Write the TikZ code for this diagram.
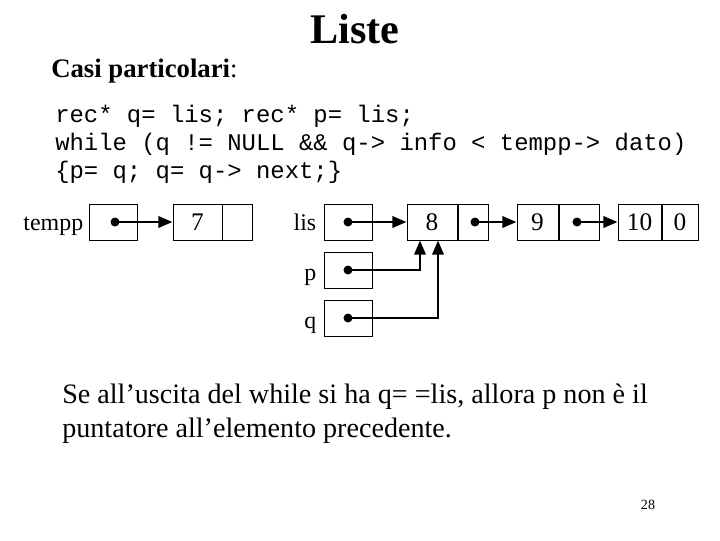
\documentclass[tikz,border=0pt]{standalone}
\usepackage{fontspec}
\setmainfont{Liberation Serif}
\setmonofont{Liberation Mono}
\usetikzlibrary{arrows.meta,positioning}
\newlength{\pxu}\setlength{\pxu}{0.025cm}
\newcommand{\codefont}{\ttfamily\fontsize{17}{20}\selectfont}
\newcommand{\textsz}{\fontsize{20}{24}\selectfont}
\tikzset{
 every node/.append style={inner sep=0pt},
 cell/.style={draw,line width=.7pt,minimum height=36\pxu,font=\fontsize{18}{20}\selectfont},
 ptr/.style={cell,minimum width=48\pxu},
 lbl/.style={font=\fontsize{17}{20}\selectfont,anchor=base east},
 dot/.style={circle,fill,minimum size=9\pxu},
 link/.style={-{Triangle[length=10pt,width=8pt]},line width=1.8pt},
 codeline/.style={font=\codefont,anchor=base west},
 body/.style={font=\textsz,anchor=base west},
}
\begin{document}
\begin{tikzpicture}[x=\pxu,y=-\pxu]
\useasboundingbox (0,0) rectangle (720,540);

\node[font=\fontsize{30}{34}\selectfont\bfseries,anchor=base] (title) at (355,43) {Liste};
\node[font=\fontsize{19}{22}\selectfont,anchor=base west] (casi) at (51,77) {\textbf{Casi particolari}:};

\node[codeline] (code1) at (55,122) {rec* q= lis; rec* p= lis;};
\node[codeline] (code2) at (55,150) {while (q != NULL \&\& q-> info < tempp-> dato)};
\node[codeline] (code3) at (55,178) {\{p= q; q= q-> next;\}};

% pointers
\node[ptr] (tempp) at (113,222) {};
\node[ptr] (lis) at (348,222) {};
\node[ptr] (p) at (348,270) {};
\node[ptr] (q) at (348,318) {};
\node[lbl] (ltempp) at ([xshift=-5\pxu,yshift=-8\pxu]tempp.west) {tempp};
\node[lbl] (llis) at ([xshift=-7\pxu,yshift=-8\pxu]lis.west) {lis};
\node[lbl] (lp) at ([xshift=-7\pxu,yshift=-10\pxu]p.west) {p};
\node[lbl] (lq) at ([xshift=-7\pxu,yshift=-10\pxu]q.west) {q};

% list elements
\node[cell,minimum width=49\pxu] (c7) at (197.5,222) {7};
\node[cell,minimum width=30\pxu,anchor=west] (n7) at (c7.east) {};
\node[cell,minimum width=50\pxu] (c8) at (432,222) {8};
\node[cell,minimum width=30\pxu,anchor=west] (n8) at (c8.east) {};
\node[cell,minimum width=41\pxu] (c9) at (537.5,222) {9};
\node[cell,minimum width=40\pxu,anchor=west] (n9) at (c9.east) {};
\node[cell,minimum width=43\pxu] (c10) at (639.5,222) {10};
\node[cell,minimum width=36\pxu,anchor=west] (n10) at (c10.east) {0};

\node[dot] (dtempp) at ([xshift=2\pxu]tempp.center) {};
\node[dot] (dlis) at (lis.center) {};
\node[dot] (dp) at (p.center) {};
\node[dot] (dq) at (q.center) {};
\node[dot] (d8) at ([xshift=2\pxu]n8.center) {};
\node[dot] (d9) at ([xshift=-2\pxu]n9.center) {};

\draw[link] (dtempp.center) -- (c7.west);
\draw[link] (dlis.center) -- (c8.west);
\draw[link] (d8.center) -- (c9.west);
\draw[link] (d9.center) -- (c10.west);
\draw[link] (dp.center) -| ([xshift=-12\pxu]c8.south);
\draw[link] (dq.center) -| ([xshift=6\pxu]c8.south);

\node[body] (se1) at (62,403) {Se all’uscita del while si ha q= =lis, allora p non è il};
\node[body] (se2) at (62,437) {puntatore all’elemento precedente.};
\node[font=\fontsize{10}{12}\selectfont,anchor=base] (page) at (648,509) {28};
\end{tikzpicture}
\end{document}
